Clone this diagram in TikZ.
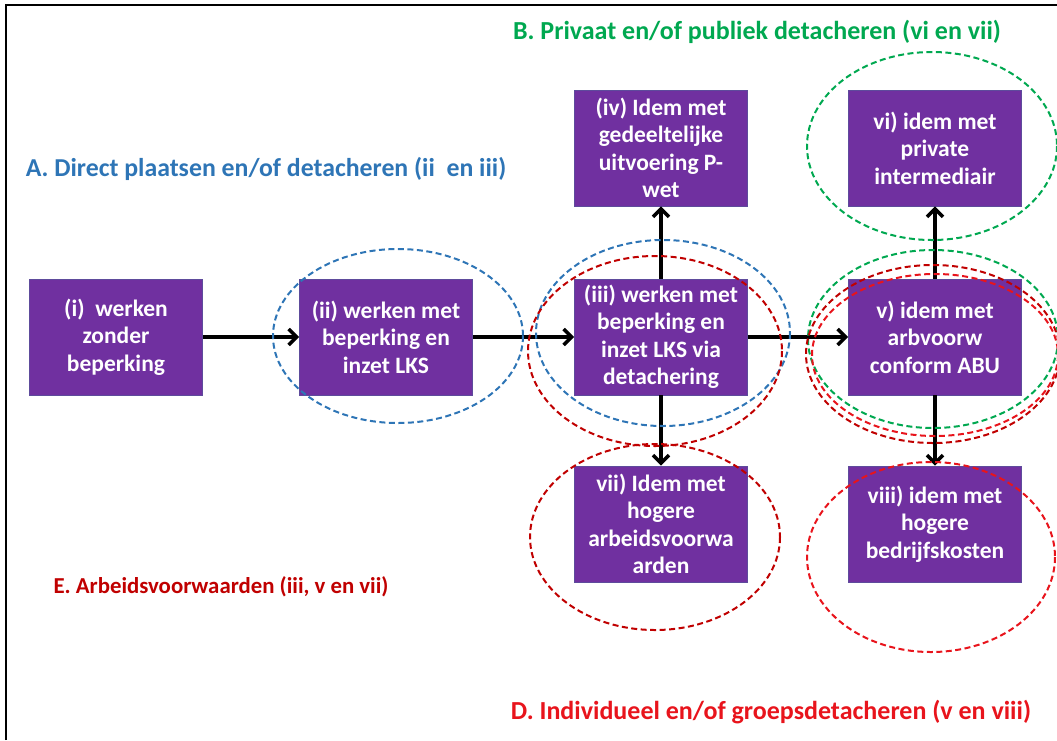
\documentclass[tikz,border=0pt]{standalone}
\usepackage{fontspec}
\setmainfont{Carlito}
\usetikzlibrary{arrows.meta}
\definecolor{boxpurple}{HTML}{7030A0}
\definecolor{boxedge}{HTML}{5E4B9C}
\definecolor{lblue}{HTML}{2E75B6}
\definecolor{lgreen}{HTML}{00A850}
\definecolor{ldred}{HTML}{C00000}
\definecolor{lred}{HTML}{E8141C}
\tikzset{
  stepbox/.style={draw=boxedge, line width=0.8pt, fill=boxpurple, text=white,
    minimum width=173pt, minimum height=116pt, inner sep=0pt, align=center,
    font=\bfseries\fontsize{23.5}{27.5}\selectfont},
  conn/.style={-{Straight Barb[length=8pt,width=16pt,line width=3.5pt]}, line width=3.5pt, black},
  ring/.style={dashed, dash pattern=on 6pt off 3.5pt, line width=2pt},
  lbl/.style={font=\bfseries\fontsize{26}{30}\selectfont, inner sep=0pt}
}
\begin{document}
\begin{tikzpicture}[x=1pt,y=-1pt]
\useasboundingbox (0,0) rectangle (1057,740);
\draw[line width=2.2pt] (6,740) -- (6,5) -- (1057,5);
% boxes
\node[stepbox] (i) at (116,337) {(i)\ \ werken\\zonder\\beperking};
\node[stepbox] (ii) at (386,337) {(ii) werken met\\beperking en\\inzet LKS};
\node[stepbox] (iii) at (661,337) {(iii) werken met\\beperking en\\inzet LKS via\\detachering};
\node[stepbox] (iv) at (661,148) {(iv) Idem met\\gedeeltelijke\\uitvoering P-\\wet};
\node[stepbox] (v) at (935,337) {v) idem met\\arbvoorw\\conform ABU};
\node[stepbox] (vi) at (935,148) {vi) idem met\\private\\intermediair};
\node[stepbox] (vii) at (661,524) {vii) Idem met\\hogere\\arbeidsvoorwa\\arden};
\node[stepbox] (viii) at (935,524) {viii) idem met\\hogere\\bedrijfskosten};
% connectors
\draw[conn] (i) -- (ii);
\draw[conn] (ii) -- (iii);
\draw[conn] (iii) -- (v);
\draw[conn] (iii) -- (iv);
\draw[conn] (iii) -- (vii);
\draw[conn] (v) -- (vi);
\draw[conn] (v) -- (viii);
% ellipses
\draw[ring, lblue] (398,336) ellipse [x radius=125, y radius=87];
\draw[ring, lblue] (663,333) ellipse [x radius=127, y radius=93];
\draw[ring, ldred] (655,351) ellipse [x radius=127, y radius=95];
\draw[ring, lgreen] (932,146) ellipse [x radius=125, y radius=94];
\draw[ring, lgreen] (933,339) ellipse [x radius=125, y radius=89];
\draw[ring, ldred] (933,354) ellipse [x radius=127, y radius=89];
\draw[ring, lred] (935,355) ellipse [x radius=123, y radius=81];
\draw[ring, ldred] (655,537) ellipse [x radius=125, y radius=93];
\draw[ring, lred] (931,557) ellipse [x radius=124, y radius=95];
% labels
\node[lbl, text=lgreen] (lb) at (757,32) {B. Privaat en/of publiek detacheren (vi en vii)};
\node[lbl, text=lblue, font=\bfseries\fontsize{25.8}{30}\selectfont] (la) at (266,169) {A. Direct plaatsen en/of detacheren (ii\ \ en iii)};
\node[lbl, text=ldred, font=\bfseries\fontsize{22.8}{27}\selectfont] (le) at (221,587) {E. Arbeidsvoorwaarden (iii, v en vii)};
\node[lbl, text=lred] (ld) at (771,712) {D. Individueel en/of groepsdetacheren (v en viii)};
\end{tikzpicture}
\end{document}
